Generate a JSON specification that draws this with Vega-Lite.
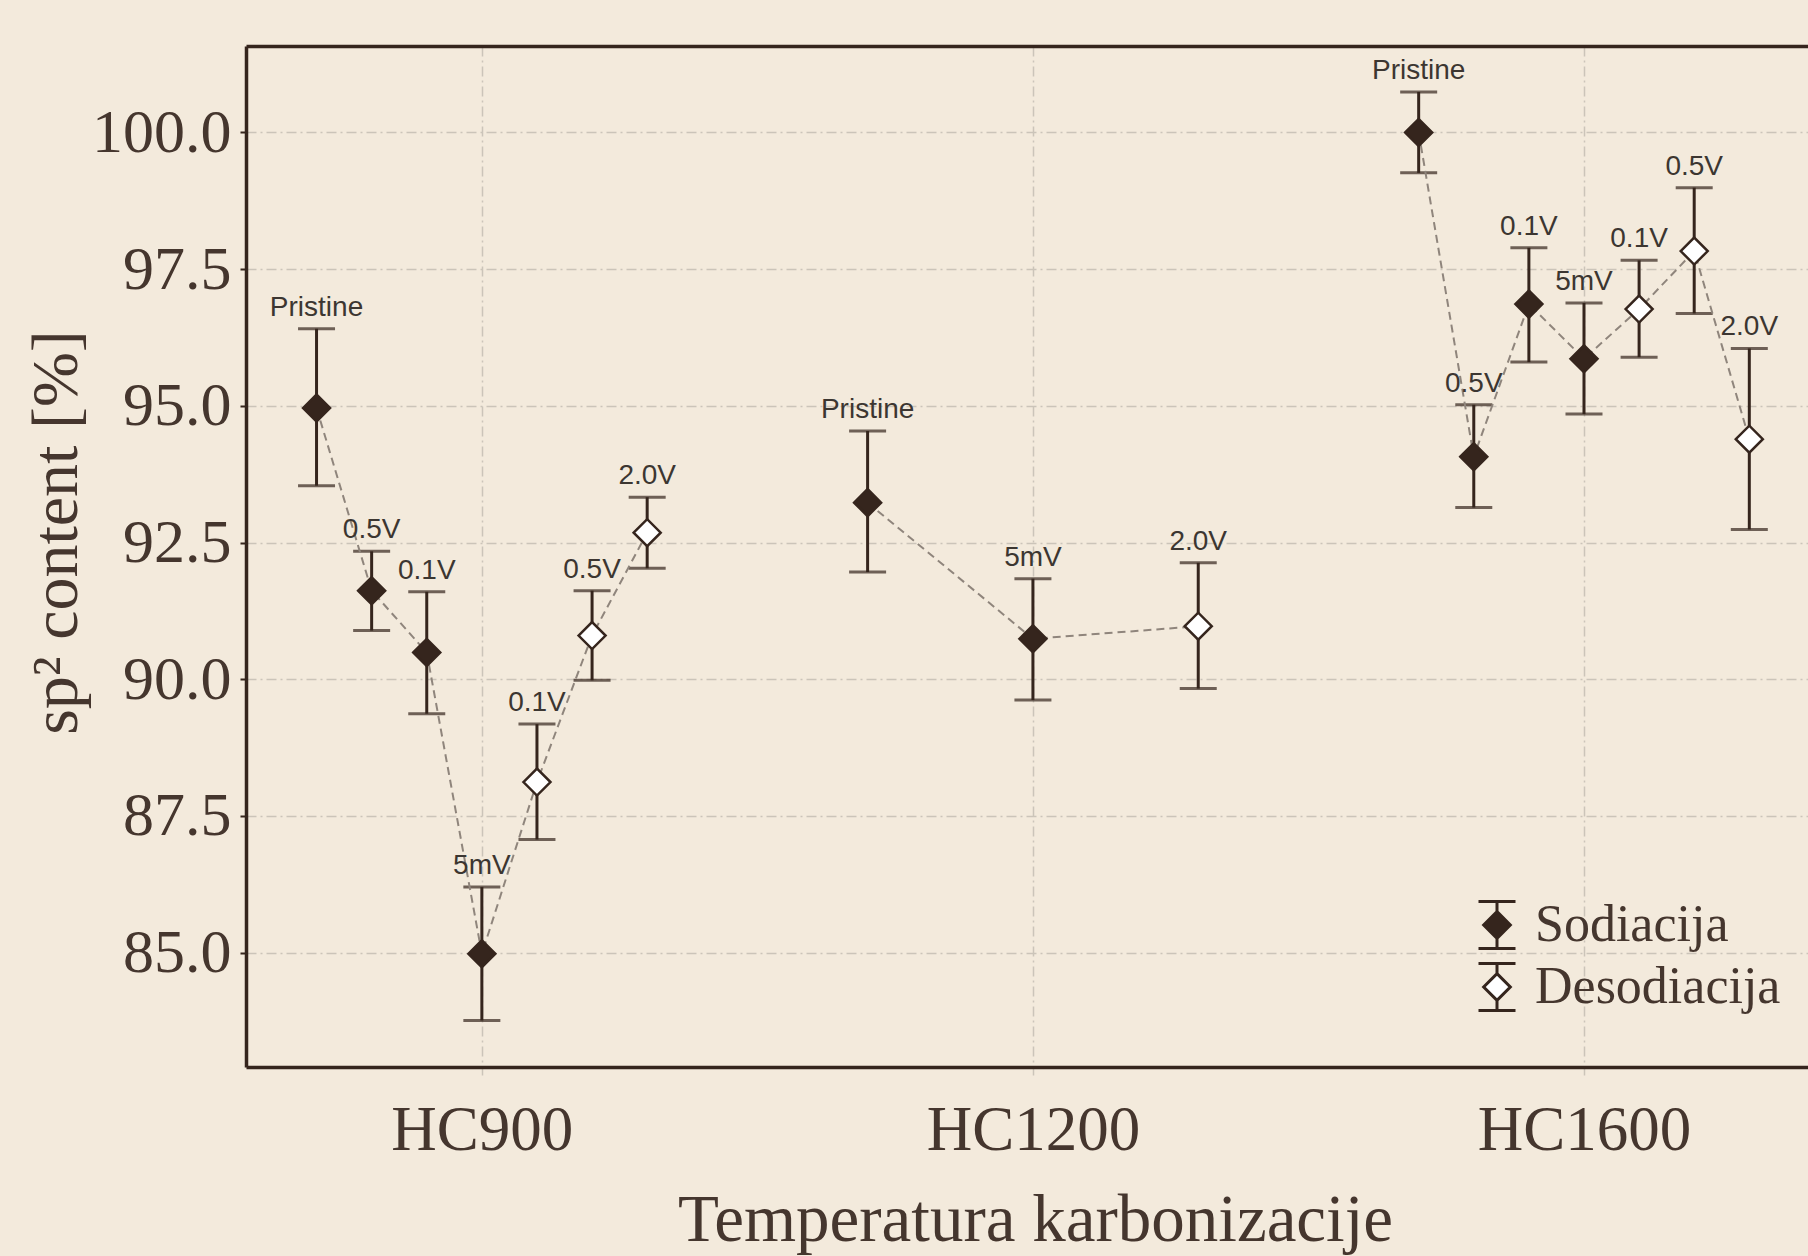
{
  "$schema": "https://vega.github.io/schema/vega-lite/v6.json",
  "width": 1562,
  "height": 1021,
  "autosize": {"type": "none"},
  "padding": {"left": 246, "top": 46, "right": 0, "bottom": 189},
  "background": "#f3eadc",
  "config": {"view": {"stroke": null}},
  "data": {
    "values": [
      {"group": "HC900", "x": -0.3, "label": "Pristine", "type": "Sodiacija", "sp2": 94.96, "lo": 93.54, "hi": 96.41},
      {"group": "HC900", "x": -0.2, "label": "0.5V", "type": "Sodiacija", "sp2": 91.62, "lo": 90.89, "hi": 92.34},
      {"group": "HC900", "x": -0.1, "label": "0.1V", "type": "Sodiacija", "sp2": 90.49, "lo": 89.37, "hi": 91.6},
      {"group": "HC900", "x": 0.0, "label": "5mV", "type": "Sodiacija", "sp2": 84.98, "lo": 83.76, "hi": 86.2},
      {"group": "HC900", "x": 0.1, "label": "0.1V", "type": "Desodiacija", "sp2": 88.12, "lo": 87.07, "hi": 89.18},
      {"group": "HC900", "x": 0.2, "label": "0.5V", "type": "Desodiacija", "sp2": 90.8, "lo": 89.98, "hi": 91.62},
      {"group": "HC900", "x": 0.3, "label": "2.0V", "type": "Desodiacija", "sp2": 92.68, "lo": 92.03, "hi": 93.33},
      {"group": "HC1200", "x": 0.7, "label": "Pristine", "type": "Sodiacija", "sp2": 93.23, "lo": 91.96, "hi": 94.54},
      {"group": "HC1200", "x": 1.0, "label": "5mV", "type": "Sodiacija", "sp2": 90.74, "lo": 89.62, "hi": 91.84},
      {"group": "HC1200", "x": 1.3, "label": "2.0V", "type": "Desodiacija", "sp2": 90.97, "lo": 89.83, "hi": 92.13},
      {"group": "HC1600", "x": 1.7, "label": "Pristine", "type": "Sodiacija", "sp2": 100.0, "lo": 99.26, "hi": 100.74},
      {"group": "HC1600", "x": 1.8, "label": "0.5V", "type": "Sodiacija", "sp2": 94.07, "lo": 93.14, "hi": 95.02},
      {"group": "HC1600", "x": 1.9, "label": "0.1V", "type": "Sodiacija", "sp2": 96.86, "lo": 95.8, "hi": 97.89},
      {"group": "HC1600", "x": 2.0, "label": "5mV", "type": "Sodiacija", "sp2": 95.86, "lo": 94.85, "hi": 96.88},
      {"group": "HC1600", "x": 2.1, "label": "0.1V", "type": "Desodiacija", "sp2": 96.77, "lo": 95.89, "hi": 97.66},
      {"group": "HC1600", "x": 2.2, "label": "0.5V", "type": "Desodiacija", "sp2": 97.83, "lo": 96.69, "hi": 98.99},
      {"group": "HC1600", "x": 2.3, "label": "2.0V", "type": "Desodiacija", "sp2": 94.39, "lo": 92.74, "hi": 96.05}
    ]
  },
  "resolve": {"axis": {"x": "independent"}},
  "layer": [
    {
      "mark": {"type": "rule", "color": "#35251d", "strokeWidth": 3},
      "encoding": {
        "x": {
          "field": "x", "type": "quantitative",
          "scale": {"domain": [-0.428, 2.4065], "nice": false, "zero": false},
          "axis": {
            "orient": "bottom",
            "values": [0, 1, 2],
            "labelExpr": "datum.value == 0 ? 'HC900' : datum.value == 1 ? 'HC1200' : 'HC1600'",
            "grid": true, "gridColor": "#cbc4b9", "gridWidth": 1.5, "gridDash": [10, 4, 2, 4],
            "ticks": true, "tickColor": "#cbc4b9", "tickSize": 8, "tickWidth": 1.5,
            "domain": true, "domainColor": "#35251d", "domainWidth": 3.5,
            "labelFont": "Liberation Serif", "labelFontSize": 63, "labelColor": "#45362e",
            "labelBaseline": "alphabetic", "labelPadding": 74, "labelFlush": false, "labelOverlap": false, "labelLimit": 0,
            "title": "Temperatura karbonizacije",
            "titleFont": "Liberation Serif", "titleFontSize": 67, "titleFontWeight": "normal", "titleColor": "#45362e",
            "titleX": 789, "titleY": 173, "titleBaseline": "alphabetic", "titleAlign": "center", "titleLimit": 0
          }
        },
        "y": {
          "field": "lo", "type": "quantitative",
          "scale": {"domain": [82.91, 101.58], "nice": false, "zero": false},
          "axis": {
            "values": [85, 87.5, 90, 92.5, 95, 97.5, 100],
            "format": ".1f",
            "grid": true, "gridColor": "#cbc4b9", "gridWidth": 1.5, "gridDash": [10, 4, 2, 4],
            "ticks": true, "tickColor": "#35251d", "tickSize": 6, "tickWidth": 2,
            "domain": true, "domainColor": "#35251d", "domainWidth": 3.5,
            "labelFont": "Liberation Serif", "labelFontSize": 62, "labelColor": "#45362e",
            "labelPadding": 9, "labelBaseline": "middle", "labelLimit": 0,
            "title": "sp² content [%]",
            "titleFont": "Liberation Serif", "titleFontSize": 66, "titleFontWeight": "normal", "titleColor": "#45362e",
            "titleX": -170, "titleY": 486, "titleBaseline": "alphabetic", "titleAlign": "center", "titleLimit": 0
          }
        },
        "y2": {"field": "hi"}
      }
    },
    {
      "mark": {"type": "tick", "orient": "horizontal", "size": 37, "thickness": 3, "color": "#35251d"},
      "encoding": {
        "x": {"field": "x", "type": "quantitative", "axis": null},
        "y": {"field": "lo", "type": "quantitative"}
      }
    },
    {
      "mark": {"type": "tick", "orient": "horizontal", "size": 37, "thickness": 3, "color": "#35251d"},
      "encoding": {
        "x": {"field": "x", "type": "quantitative", "axis": null},
        "y": {"field": "hi", "type": "quantitative"}
      }
    },
    {
      "mark": {"type": "line", "color": "#8f857c", "strokeWidth": 2, "strokeDash": [8, 5]},
      "encoding": {
        "x": {"field": "x", "type": "quantitative", "axis": null},
        "y": {"field": "sp2", "type": "quantitative"},
        "detail": {"field": "group"}
      }
    },
    {
      "mark": {"type": "point", "shape": "diamond", "size": 730, "filled": true, "stroke": "#35251d", "strokeWidth": 2.5, "opacity": 1},
      "encoding": {
        "x": {"field": "x", "type": "quantitative", "axis": null},
        "y": {"field": "sp2", "type": "quantitative"},
        "fill": {
          "field": "type", "type": "nominal",
          "scale": {"domain": ["Sodiacija", "Desodiacija"], "range": ["#35251d", "#ffffff"]},
          "legend": {
            "orient": "none", "legendX": 1225, "legendY": 853,
            "title": null,
            "symbolType": "M-1,-1.27H1M0,-1.27V-0.72M0,0.72V1.27M-1,1.27H1M0,-0.72L0.72,0L0,0.72L-0.72,0Z",
            "symbolSize": 1369, "symbolStrokeWidth": 3, "symbolStrokeColor": "#35251d",
            "labelFont": "Liberation Serif", "labelFontSize": 52, "labelColor": "#45362e", "labelLimit": 0,
            "labelOffset": 12, "rowPadding": 2
          }
        }
      }
    },
    {
      "mark": {"type": "text", "dy": -13, "baseline": "alphabetic", "align": "center", "font": "Liberation Sans", "fontSize": 28, "color": "#3c3631"},
      "encoding": {
        "x": {
          "field": "x", "type": "quantitative",
          "axis": {"orient": "top", "labels": false, "ticks": false, "grid": false, "title": null, "domain": true, "domainColor": "#35251d", "domainWidth": 3.5}
        },
        "y": {"field": "hi", "type": "quantitative"},
        "text": {"field": "label"}
      }
    }
  ]
}
